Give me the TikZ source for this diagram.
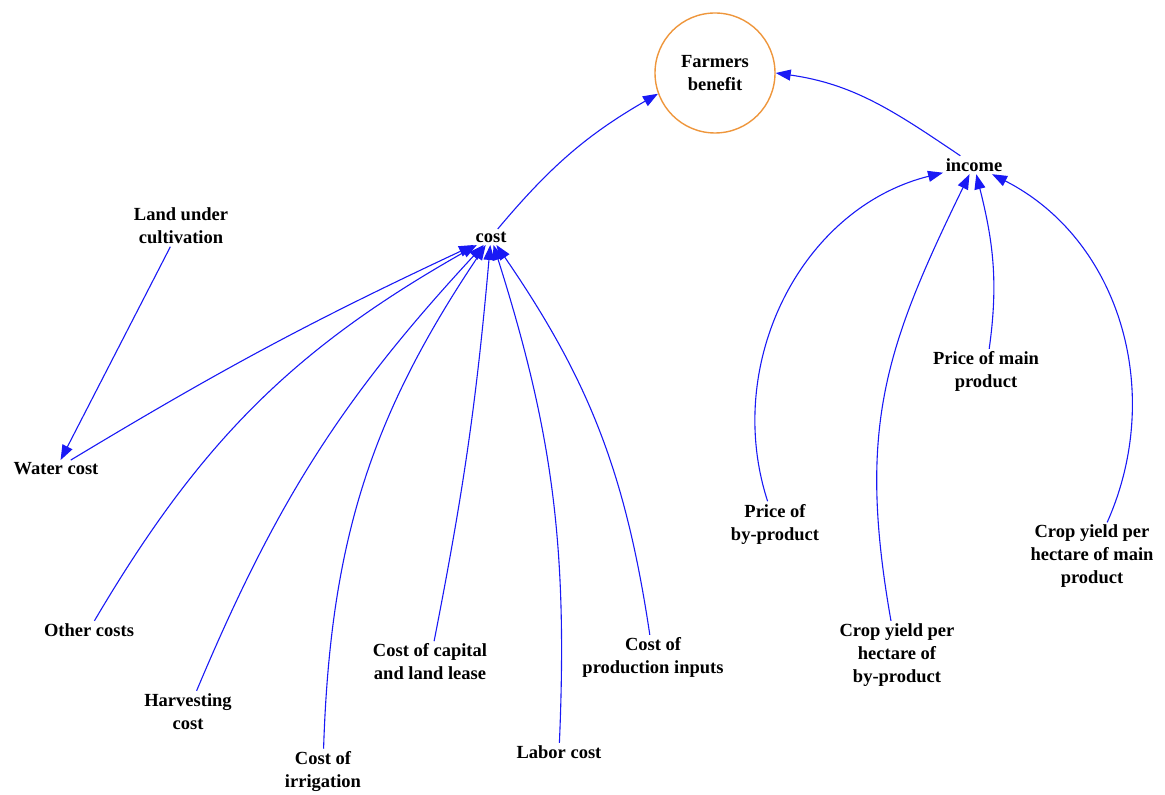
\documentclass[tikz,border=0pt]{standalone}
\usepackage{fontspec}
\setmainfont{Liberation Serif}
\usetikzlibrary{arrows.meta}

\definecolor{linkblue}{RGB}{25,25,245}
\definecolor{ringorange}{RGB}{238,150,60}

\tikzset{
  factor/.style={font=\bfseries\fontsize{18.5}{23}\selectfont, align=center, inner sep=2.5pt},
  goal/.style={factor, circle, draw=ringorange, line width=1.4pt, minimum size=120pt},
  link/.style={draw=linkblue, line width=1.1pt, -{Triangle[length=15pt,width=11pt]}}
}

\begin{document}
\begin{tikzpicture}[x=1pt,y=1pt]
  \useasboundingbox (0,0) rectangle (1165,795);

  % outcome and the two aggregates
  \node[goal]   (fb)     at (715,722) {Farmers\\benefit};
  \node[factor] (cost)   at (491,558) {cost};
  \node[factor] (income) at (974,630) {income};

  % cost side
  \node[factor] (land)   at (181,569) {Land under\\cultivation};
  \node[factor] (water)  at (56,326)  {Water cost};
  \node[factor] (other)  at (89,165)  {Other costs};
  \node[factor] (harv)   at (188,83.5) {Harvesting\\cost};
  \node[factor] (irr)    at (323,23.5) {Cost of\\irrigation};
  \node[factor] (cap)    at (430,133) {Cost of capital\\and land lease};
  \node[factor] (labor)  at (559,43)  {Labor cost};
  \node[factor] (prod)   at (653,137.5) {Cost of\\production inputs};

  % income side
  \node[factor] (pbp)    at (775,271) {Price of\\by-product};
  \node[factor] (cybp)   at (897,140) {Crop yield per\\hectare of\\by-product};
  \node[factor] (pmain)  at (986,423.5) {Price of main\\product};
  \node[factor] (cymain) at (1092,238.5) {Crop yield per\\hectare of main\\product};

  % links into the outcome
  \draw[link] (cost) to[out=50,in=210] (fb.200);
  \draw[link] (income) to[out=146,in=-8] (fb.0);

  % links into cost
  \draw[link] (land) -- (water);
  \draw[link] (water) to[bend left=3] (cost);
  \draw[link] (other) to[bend left=15] (cost);
  \draw[link] (harv) to[bend left=10] (cost);
  \draw[link] (irr) to[bend left=16] (cost);
  \draw[link] (cap) to[bend right=3] (cost);
  \draw[link] (labor) to[bend right=10] (cost);
  \draw[link] (prod) to[bend right=13] (cost);

  % links into income
  \draw[link] (pbp) to[out=108,in=194] (income);
  \draw[link] (cybp) to[out=100,in=244,looseness=1.1] (income);
  \draw[link] (pmain) to[out=82,in=284] (income);
  \draw[link] (cymain) to[out=66,in=333] (income);
\end{tikzpicture}
\end{document}
